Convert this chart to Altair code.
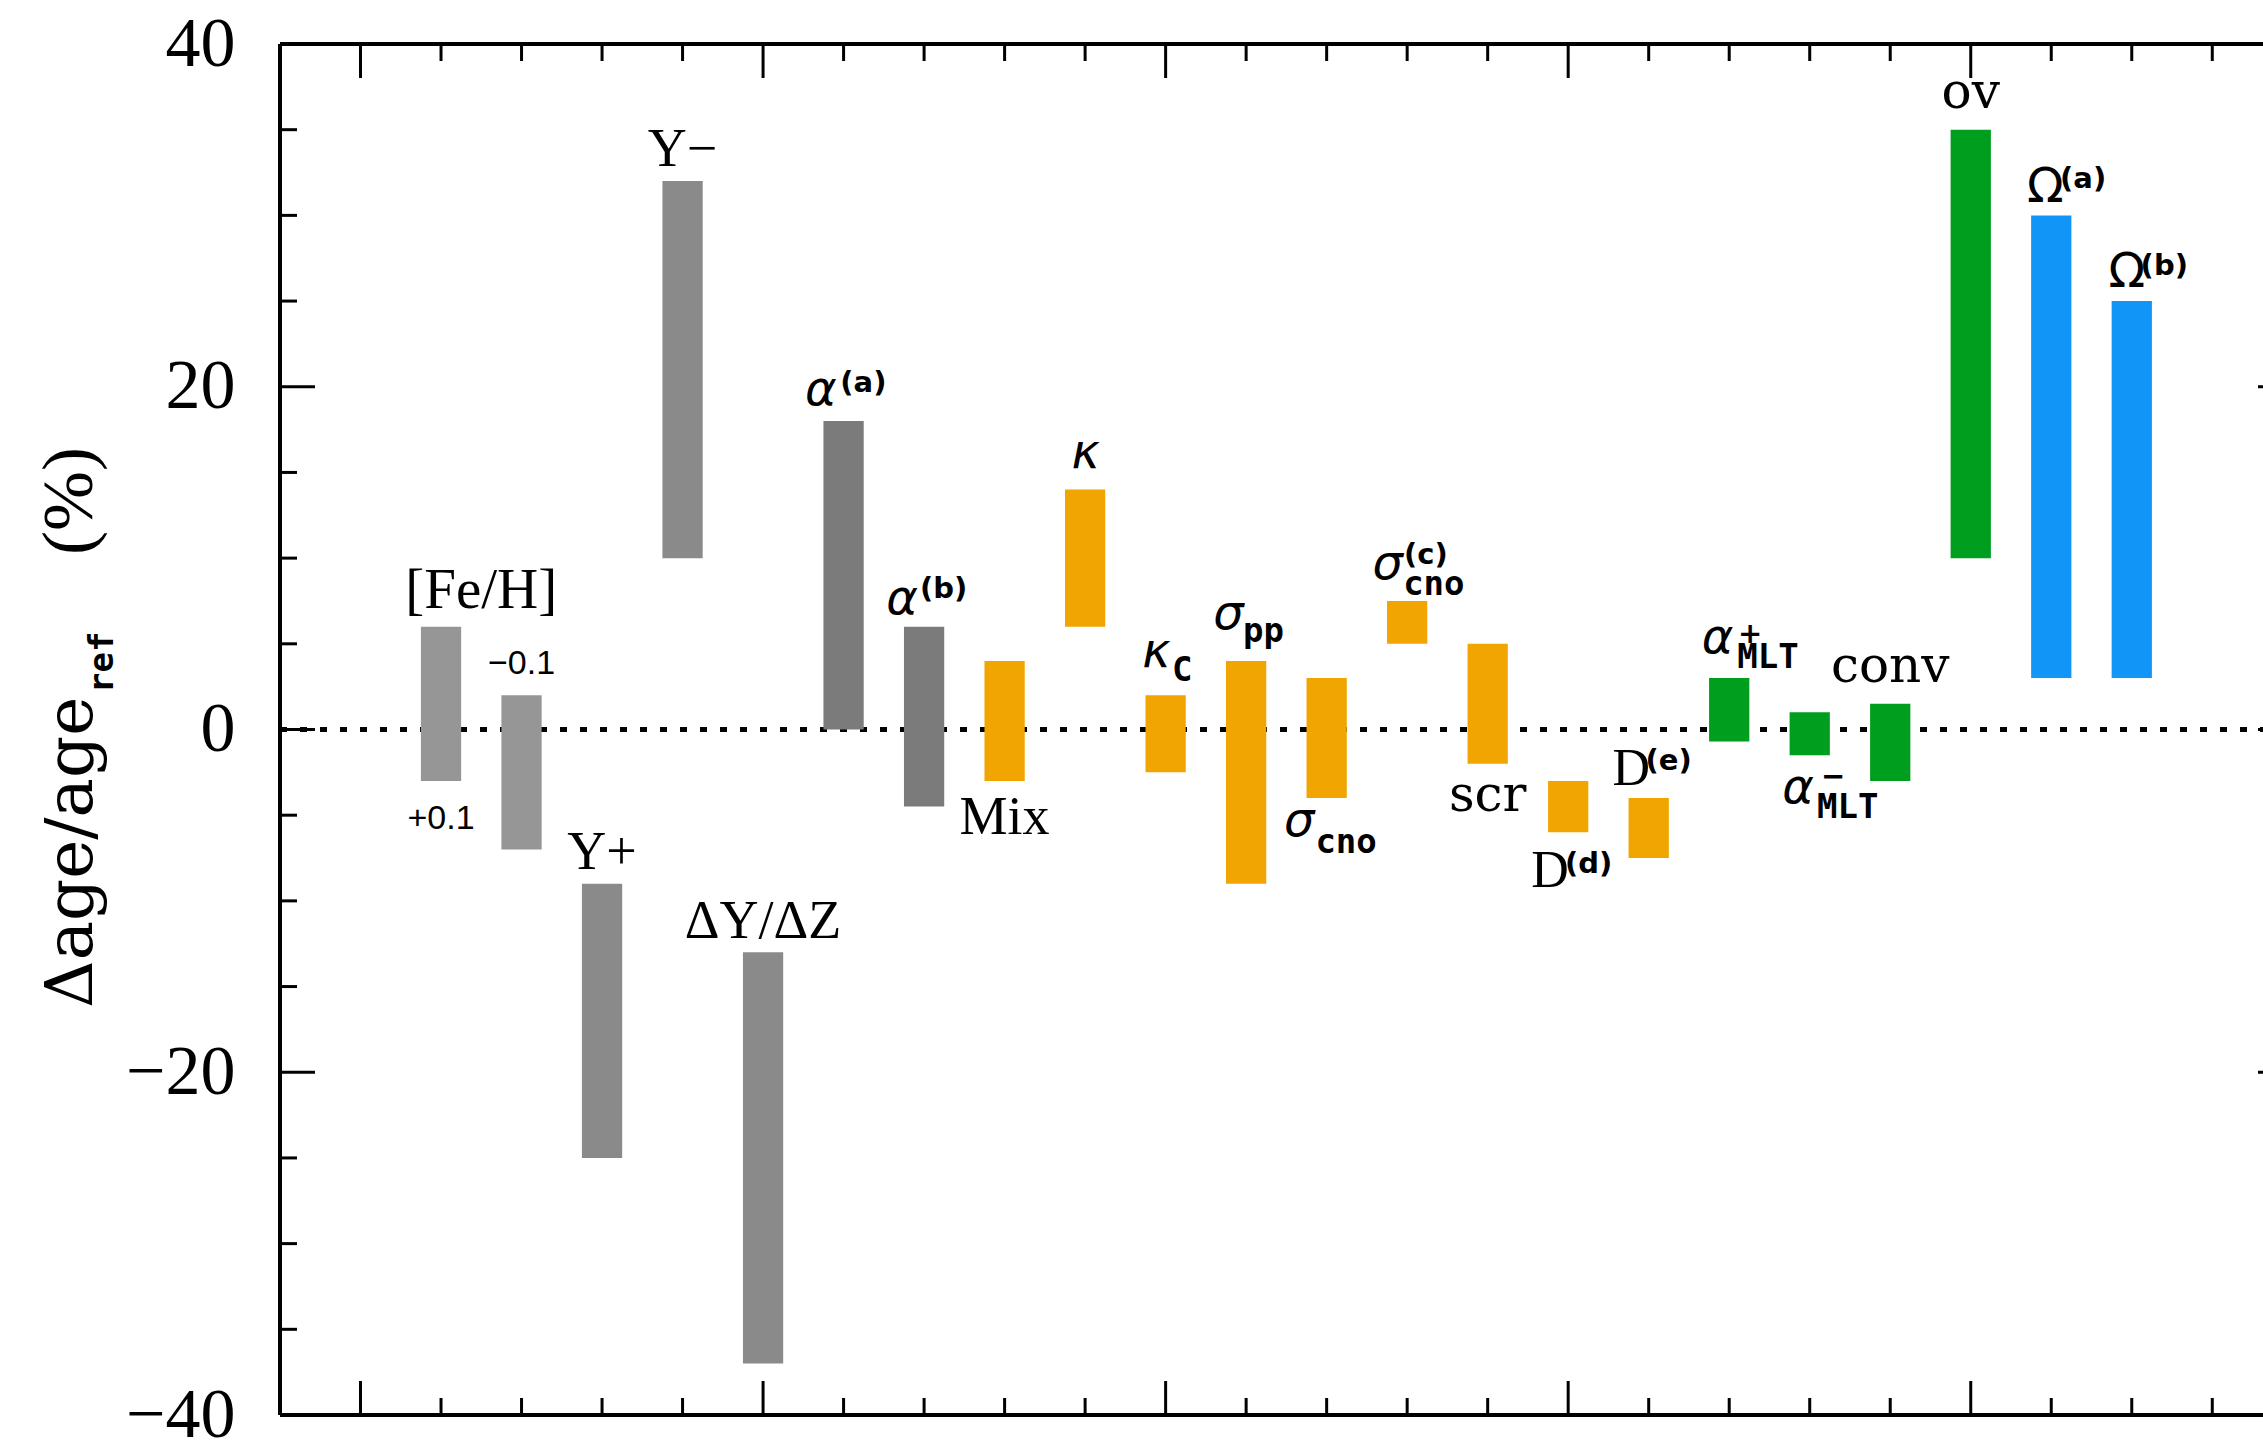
import altair as alt
import pandas as pd

# ---------------------------------------------------------------------------
# Data: relative age change (%) for each input-physics variation
# ---------------------------------------------------------------------------
slot = list(range(2, 24))
low = [-3, -7, -25, 10, -37, 0, -4.5, -3, 6, -2.5, -9, -4, 5, -2, -3, -7.5,
       -0.7, -1.5, -3, 10, 3, 3]
high = [6, 2, -9, 32, -13, 18, 6, 4, 14, 2, 4, 3, 7.5, 5, -6, -4,
        3, 1, 1.5, 35, 30, 25]
group = (["feh"] * 2 + ["helium"] * 3 + ["alpha"] * 2 + ["micro"] * 9
         + ["macro"] * 4 + ["rot"] * 2)

group_domain = ["feh", "helium", "alpha", "micro", "macro", "rot"]
group_colors = ["#969696", "#8a8a8a", "#7b7b7b", "#F0A500", "#009E1E", "#1195F7"]

# Annotation pieces (text, x, baseline y, style)
piece_text = ["[Fe/H]", "\u22120.1", "+0.1", "Y+", "Y\u2212", "\u0394Y/\u0394Z",
              "\u03b1", "(a)", "\u03b1", "(b)", "Mix", "\u03ba",
              "\u03ba", "C", "\u03c3", "pp", "\u03c3", "cno",
              "\u03c3", "(c)", "cno", "scr", "D", "(d)", "D", "(e)",
              "\u03b1", "+", "MLT", "\u03b1", "\u2212", "MLT",
              "conv", "ov", "\u03a9", "(a)", "\u03a9", "(b)"]
piece_x = [2.50, 3.0, 2.0, 4.0, 5.0, 6.0,
           6.52, 6.96, 7.53, 7.95, 9.0, 9.83,
           10.71, 11.08, 11.59, 11.96, 12.47, 12.86,
           13.57, 13.96, 13.95, 15.0, 15.54, 15.96, 16.55, 16.96,
           17.66, 18.11, 18.10, 18.66, 19.14, 19.09,
           20.0, 21.0, 21.70, 22.11, 22.71, 23.11]
piece_y = [7.08, 3.23, -5.81, -8.14, 32.87, -12.17,
           18.93, 19.69, 6.73, 7.67, -6.1, 15.25,
           3.64, 2.82, 5.86, 5.1, -6.21, -7.21,
           8.77, 9.65, 7.84, -4.76, -9.19, -8.38, -3.24, -2.37,
           4.46, 5.07, 3.58, -4.28, -3.3, -5.17,
           2.77, 36.26, 30.77, 31.59, 25.81, 26.51]
piece_style = ["feh", "num", "num", "roman", "roman", "roman",
               "greek", "sup", "greek", "sup", "roman", "greek",
               "greek", "sub", "greek", "sub", "greek", "sub",
               "greek", "sup", "sub", "slab", "romanL", "sup", "romanL", "sup",
               "greek", "sup", "sub", "greek", "sup", "sub",
               "slab", "slab", "omega", "sup", "omega", "sup"]

STYLES = {
    "feh": dict(font="Liberation Serif", fontSize=57, align="center"),
    "roman": dict(font="Liberation Serif", fontSize=54, align="center"),
    "romanL": dict(font="Liberation Serif", fontSize=52, align="left"),
    "slab": dict(font="DejaVu Serif", fontSize=50, align="center"),
    "greek": dict(font="DejaVu Sans", fontSize=48, fontStyle="italic", align="left"),
    "omega": dict(font="DejaVu Sans", fontSize=48, align="left"),
    "sup": dict(font="DejaVu Sans", fontSize=29, fontWeight="bold", align="left"),
    "sub": dict(font="DejaVu Sans Mono", fontSize=34, fontWeight="bold", align="left"),
    "num": dict(font="Liberation Sans", fontSize=34, align="center"),
}

# Frame tick positions
x_major = [1, 6, 11, 16, 21]
x_minor = [v for v in range(2, 25) if v not in x_major]
y_major = [-20, 0, 20]
y_minor = [-35, -30, -25, -15, -10, -5, 5, 10, 15, 25, 30, 35]
y_labels = [-40, -20, 0, 20, 40]

# ---------------------------------------------------------------------------
W, H = 1983, 1371
X_MAX = 24.63

x_scale = alt.Scale(domain=[0, X_MAX], nice=False, zero=False)
y_scale = alt.Scale(domain=[-40, 40], nice=False, zero=False)
y_axis = alt.Axis(values=y_labels, labelFont="Liberation Serif", labelFontSize=70,
                  labelColor="black", labelPadding=45, labelFlush=False,
                  ticks=False, tickSize=0, domain=False, grid=False,
                  title=None, format="d", labelOverlap=False)


def xq(field):
    return alt.X(field, type="quantitative", scale=x_scale, axis=None)


def yq(field):
    return alt.Y(field, type="quantitative", scale=y_scale, axis=y_axis)


bars_df = pd.DataFrame({"slot": slot, "lo": low, "hi": high, "grp": group})
pieces_df = pd.DataFrame({"t": piece_text, "x": piece_x, "y": piece_y, "s": piece_style})
one = pd.DataFrame({"k": [0]})

zero_line = alt.Chart(pd.DataFrame({"y": [0]})).mark_rule(
    color="black", strokeWidth=5, strokeDash=[7, 13]
).encode(y=yq("y"), x=alt.value(0), x2=alt.value(W))

bars = alt.Chart(bars_df).mark_rect().transform_calculate(
    xl="datum.slot - 0.25", xr="datum.slot + 0.25"
).encode(
    x=xq("xl"), x2="xr:Q", y=yq("lo"), y2="hi:Q",
    color=alt.Color("grp:N", scale=alt.Scale(domain=group_domain, range=group_colors),
                    legend=None),
)

layers = [zero_line, bars]

# frame lines
rule = dict(color="black", strokeWidth=4)
layers.append(alt.Chart(one).mark_rule(**rule).encode(
    x=alt.value(0), y=alt.value(0), y2=alt.value(H)))
layers.append(alt.Chart(one).mark_rule(**rule).encode(
    x=alt.value(0), x2=alt.value(W), y=alt.value(0)))
layers.append(alt.Chart(one).mark_rule(**rule).encode(
    x=alt.value(0), x2=alt.value(W), y=alt.value(H)))

# inward ticks
tick = dict(color="black", strokeWidth=3)
for vals, ln in ((x_major, 34), (x_minor, 17)):
    d = pd.DataFrame({"x": vals})
    layers.append(alt.Chart(d).mark_rule(**tick).encode(
        x=xq("x"), y=alt.value(H), y2=alt.value(H - ln)))
    layers.append(alt.Chart(d).mark_rule(**tick).encode(
        x=xq("x"), y=alt.value(0), y2=alt.value(ln)))
for vals, ln in ((y_major, 35), (y_minor, 17)):
    d = pd.DataFrame({"y": vals})
    layers.append(alt.Chart(d).mark_rule(**tick).encode(
        y=yq("y"), x=alt.value(0), x2=alt.value(ln)))
layers.append(alt.Chart(pd.DataFrame({"y": y_major})).mark_rule(**tick).encode(
    y=yq("y"), x=alt.value(W - 5), x2=alt.value(W)))

# y axis labels (drawn through the axis) need a y encoding with data
layers.append(alt.Chart(pd.DataFrame({"y": y_labels})).mark_point(opacity=0).encode(
    y=yq("y"), x=alt.value(0)))

# bar annotations
for name, props in STYLES.items():
    layers.append(alt.Chart(pieces_df).transform_filter(
        alt.datum.s == name
    ).mark_text(baseline="alphabetic", color="black", **props).encode(
        x=xq("x"), y=yq("y"), text="t:N"))

# rotated axis title with subscript
title_parts = [
    ("\u0394age/age", -188, 964, "DejaVu Serif", 66, "normal"),
    ("ref", -167, 649, "DejaVu Sans Mono", 34, "bold"),
    ("(%)", -188, 511, "Liberation Serif", 72, "normal"),
]
for txt, px, py, fnt, fs, fw in title_parts:
    layers.append(alt.Chart(pd.DataFrame({"t": [txt]})).mark_text(
        angle=270, align="left", baseline="alphabetic", font=fnt, fontSize=fs,
        fontWeight=fw, color="black"
    ).encode(x=alt.value(px), y=alt.value(py), text="t:N"))

chart = alt.layer(*layers).properties(
    width=W, height=H,
    autosize=alt.AutoSizeParams(type="none"),
    padding={"left": 280, "top": 44, "right": 0, "bottom": 26},
    background="white",
).configure_view(stroke=None)

chart.save("out.html", embed_options={"renderer": "svg", "actions": False})
